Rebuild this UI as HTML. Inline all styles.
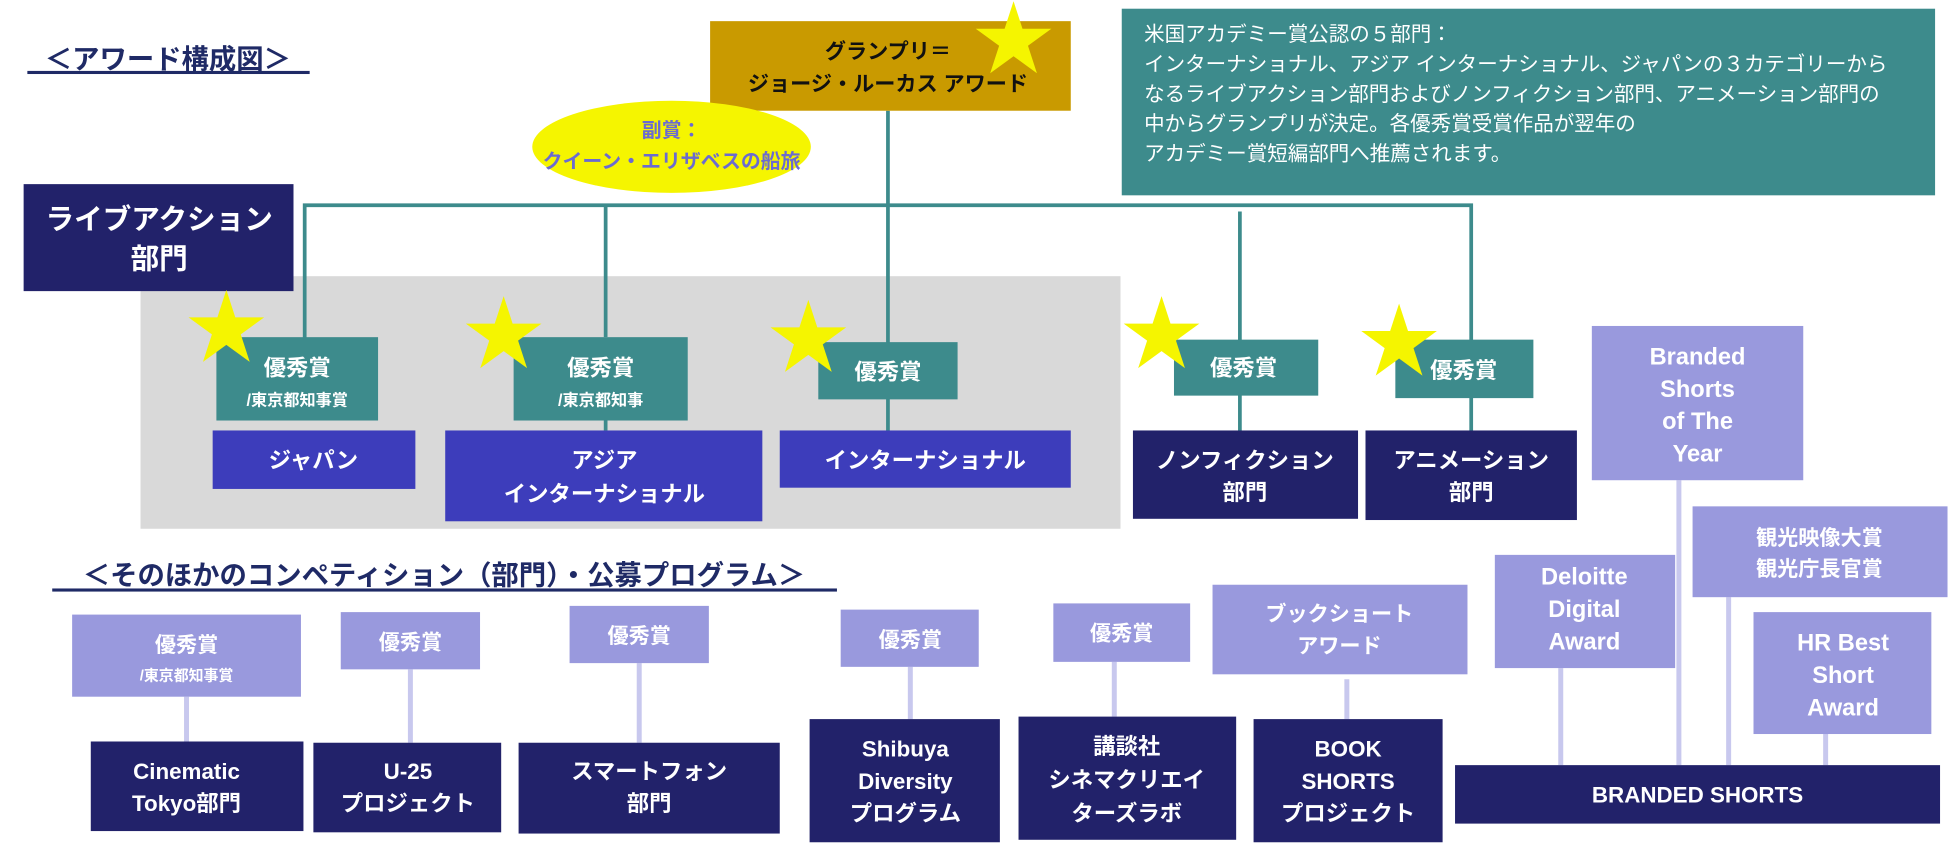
<!DOCTYPE html>
<html><head><meta charset="utf-8"><style>
html,body{margin:0;padding:0;background:#fff}
svg{display:block}
text{font-family:"Liberation Sans","Noto Sans CJK JP",sans-serif;font-weight:bold;text-anchor:middle}
.w{fill:#fff}
</style></head><body>
<svg width="1950" height="846" viewBox="0 0 1568 680" preserveAspectRatio="none" xmlns="http://www.w3.org/2000/svg">
<rect width="1568" height="680" fill="#fff"/>
<!-- titles -->
<text x="135" y="55" font-size="22" fill="#1f2a66">＜アワード構成図＞</text>
<rect x="22" y="57" width="227" height="2.5" fill="#1f2a66"/>
<text x="357" y="470" font-size="22" fill="#1f2a66">＜そのほかのコンペティション（部門）・公募プログラム＞</text>
<rect x="42" y="473" width="631" height="2.5" fill="#1f2a66"/>
<!-- gray bg -->
<rect x="113" y="222" width="788" height="203" fill="#d9d9d9"/>
<!-- teal lines -->
<g stroke="#3d8b8c" stroke-width="3" fill="none">
<path d="M245 272 V165 H1183 V346"/>
<path d="M487 165 V271"/>
<path d="M714 89 V346"/>
<path d="M997 170 V346"/>
<path d="M487 338 V346"/>
</g>
<!-- grand prix -->
<rect x="571" y="17" width="290" height="72" fill="#c99a00"/>
<text x="714" y="47" font-size="17" fill="#111">グランプリ＝</text>
<text x="714" y="73" font-size="17" fill="#111">ジョージ・ルーカス アワード</text>
<!-- ellipse -->
<ellipse cx="540" cy="118" rx="112" ry="37" fill="#f5f500"/>
<text x="540" y="110" font-size="16" fill="#6b6bd0">副賞：</text>
<text x="540" y="135" font-size="16" fill="#6b6bd0">クイーン・エリザベスの船旅</text>
<!-- info -->
<rect x="902" y="7" width="654" height="150" fill="#3d8b8c"/>
<g font-size="16.5" class="w" style="text-anchor:start;font-weight:normal">
<text x="920" y="33" style="text-anchor:start;font-weight:normal">米国アカデミー賞公認の５部門：</text>
<text x="920" y="57" style="text-anchor:start;font-weight:normal">インターナショナル、アジア インターナショナル、ジャパンの３カテゴリーから</text>
<text x="920" y="81" style="text-anchor:start;font-weight:normal">なるライブアクション部門およびノンフィクション部門、アニメーション部門の</text>
<text x="920" y="105" style="text-anchor:start;font-weight:normal">中からグランプリが決定。各優秀賞受賞作品が翌年の</text>
<text x="920" y="129" style="text-anchor:start;font-weight:normal">アカデミー賞短編部門へ推薦されます。</text>
</g>
<!-- live action -->
<rect x="19" y="148" width="217" height="86" fill="#22226a"/>
<text x="128" y="184" font-size="23" class="w">ライブアクション</text>
<text x="128" y="216" font-size="23" class="w">部門</text>
<!-- teal award boxes -->
<g fill="#3d8b8c">
<rect x="174" y="271" width="130" height="67"/>
<rect x="413" y="271" width="140" height="67"/>
<rect x="658" y="275" width="112" height="46"/>
<rect x="944" y="273" width="116" height="45"/>
<rect x="1122" y="273" width="111" height="47"/>
</g>
<text x="239" y="302" font-size="18" class="w">優秀賞</text>
<text x="239" y="326" font-size="13" class="w">/東京都知事賞</text>
<text x="483" y="302" font-size="18" class="w">優秀賞</text>
<text x="483" y="326" font-size="13" class="w">/東京都知事</text>
<text x="714" y="305" font-size="18" class="w">優秀賞</text>
<text x="1000" y="302" font-size="18" class="w">優秀賞</text>
<text x="1177" y="304" font-size="18" class="w">優秀賞</text>
<!-- blue boxes -->
<g fill="#3d3dbb">
<rect x="171" y="346" width="163" height="47"/>
<rect x="358" y="346" width="255" height="73"/>
<rect x="627" y="346" width="234" height="46"/>
</g>
<text x="252" y="376" font-size="18" class="w">ジャパン</text>
<text x="486" y="376" font-size="18" class="w">アジア</text>
<text x="486" y="403" font-size="18" class="w">インターナショナル</text>
<text x="744" y="376" font-size="18" class="w">インターナショナル</text>
<g fill="#22226a">
<rect x="911" y="346" width="181" height="71"/>
<rect x="1098" y="346" width="170" height="72"/>
</g>
<text x="1001" y="376" font-size="18" class="w">ノンフィクション</text>
<text x="1001" y="402" font-size="18" class="w">部門</text>
<text x="1183" y="376" font-size="18" class="w">アニメーション</text>
<text x="1183" y="402" font-size="18" class="w">部門</text>
<!-- stars -->
<defs><polygon id="st" points="0,-32 7.2,-9.9 30.4,-9.9 11.6,3.8 18.8,25.9 0,12.2 -18.8,25.9 -11.6,3.8 -30.4,-9.9 -7.2,-9.9" fill="#f5f500"/></defs>
<use href="#st" x="815" y="33"/>
<use href="#st" x="182" y="265"/>
<use href="#st" x="405" y="270"/>
<use href="#st" x="650" y="273"/>
<use href="#st" x="934" y="270"/>
<use href="#st" x="1125" y="276"/>
<!-- lavender connectors -->
<g stroke="#c8c8ee" stroke-width="4">
<path d="M150 560V596M330 538V597M514 533V597M732 536V578M896 532V576M1083 546V578M1255 537V615M1350 386V615M1390 480V615M1468 590V615"/>
</g>
<!-- lavender boxes -->
<g fill="#9999dd">
<rect x="1280" y="262" width="170" height="124"/>
<rect x="58" y="494" width="184" height="66"/>
<rect x="274" y="492" width="112" height="46"/>
<rect x="458" y="487" width="112" height="46"/>
<rect x="676" y="490" width="111" height="46"/>
<rect x="847" y="485" width="110" height="47"/>
<rect x="975" y="470" width="205" height="72"/>
<rect x="1202" y="446" width="145" height="91"/>
<rect x="1361" y="407" width="205" height="73"/>
<rect x="1410" y="492" width="143" height="98"/>
</g>
<g class="w" font-size="19">
<text x="1365" y="293">Branded</text>
<text x="1365" y="319">Shorts</text>
<text x="1365" y="345">of The</text>
<text x="1365" y="371">Year</text>
<text x="150" y="524" font-size="17">優秀賞</text>
<text x="150" y="547" font-size="12">/東京都知事賞</text>
<text x="330" y="522" font-size="17">優秀賞</text>
<text x="514" y="517" font-size="17">優秀賞</text>
<text x="732" y="520" font-size="17">優秀賞</text>
<text x="902" y="515" font-size="17">優秀賞</text>
<text x="1077" y="499" font-size="17">ブックショート</text>
<text x="1077" y="525" font-size="17">アワード</text>
<text x="1274" y="470">Deloitte</text>
<text x="1274" y="496">Digital</text>
<text x="1274" y="522">Award</text>
<text x="1463" y="438" font-size="17">観光映像大賞</text>
<text x="1463" y="463" font-size="17">観光庁長官賞</text>
<text x="1482" y="523">HR Best</text>
<text x="1482" y="549">Short</text>
<text x="1482" y="575">Award</text>
</g>
<!-- navy bottom -->
<g fill="#22226a">
<rect x="73" y="596" width="171" height="72"/>
<rect x="252" y="597" width="151" height="72"/>
<rect x="417" y="597" width="210" height="73"/>
<rect x="651" y="578" width="153" height="99"/>
<rect x="819" y="576" width="175" height="99"/>
<rect x="1008" y="578" width="152" height="99"/>
<rect x="1170" y="615" width="390" height="47"/>
</g>
<g class="w" font-size="18">
<text x="150" y="626">Cinematic</text>
<text x="150" y="652">Tokyo部門</text>
<text x="328" y="626">U-25</text>
<text x="328" y="652">プロジェクト</text>
<text x="522" y="626">スマートフォン</text>
<text x="522" y="652">部門</text>
<text x="728" y="608">Shibuya</text>
<text x="728" y="634">Diversity</text>
<text x="728" y="660">プログラム</text>
<text x="906" y="606">講談社</text>
<text x="906" y="633">シネマクリエイ</text>
<text x="906" y="660">ターズラボ</text>
<text x="1084" y="608">BOOK</text>
<text x="1084" y="634">SHORTS</text>
<text x="1084" y="660">プロジェクト</text>
<text x="1365" y="645">BRANDED SHORTS</text>
</g>
</svg>
</body></html>
